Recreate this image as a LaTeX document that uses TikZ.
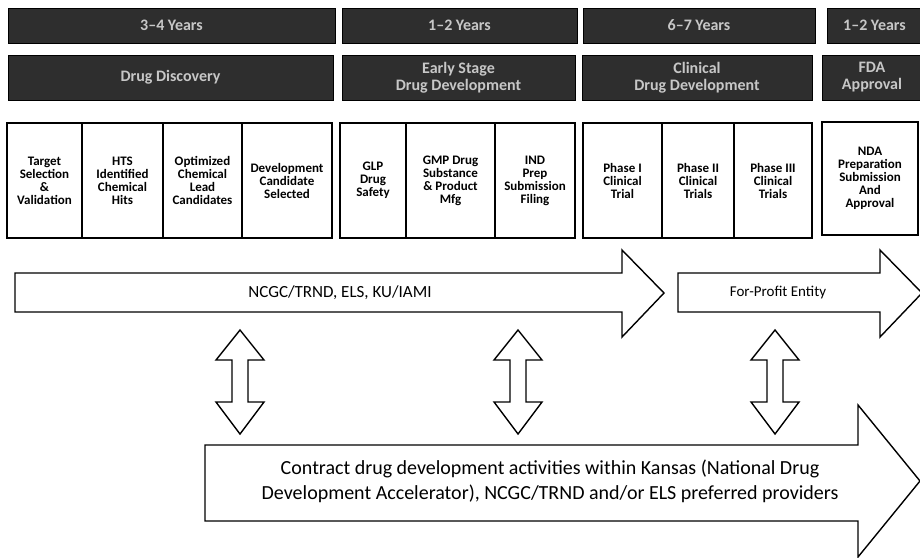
\documentclass[tikz,border=0pt]{standalone}
\usepackage{fontspec}
\setmainfont{Carlito}
\begin{document}
\begin{tikzpicture}[x=1pt,y=-1pt,
  hdr/.style={fill=black!82, draw=black, text=black!22, font=\bfseries\fontsize{16}{17}\selectfont, align=center, inner sep=0pt},
  cell/.style={draw=black, line width=1.2pt, minimum height=115pt, align=center, inner sep=1pt, font=\bfseries\fontsize{13}{13}\selectfont},
  blk/.style={draw=black, line width=1.4pt, fill=white, line join=miter},
  lbl/.style={font=\fontsize{17}{20}\selectfont, align=center, inner sep=0pt}
]
\useasboundingbox (0,0) rectangle (920,557);
% header row 1
\node[hdr, minimum width=327pt, minimum height=35pt] (h11) at (171.5,25.5) {3--4 Years};
\node[hdr, minimum width=235pt, minimum height=35pt] (h12) at (459.5,25.5) {1--2 Years};
\node[hdr, minimum width=232pt, minimum height=35pt] (h13) at (699,25.5) {6--7 Years};
\node[hdr, minimum width=95pt, minimum height=35pt] (h14) at (874.5,25.5) {1--2 Years};
% header row 2
\node[hdr, minimum width=325pt, minimum height=45pt] (h21) at (170.5,77.5) {Drug Discovery};
\node[hdr, minimum width=233pt, minimum height=45pt] (h22) at (458.5,77.5) {Early Stage\\Drug Development};
\node[hdr, minimum width=230pt, minimum height=45pt] (h23) at (697,77.5) {Clinical\\Drug Development};
\node[hdr, minimum width=100pt, minimum height=45pt] (h24) at (872,77.5) {FDA\\Approval};
% cells
\node[cell, minimum width=75pt] (c1) at (44.5,180.5) {Target\\Selection\\\&\\Validation};
\node[cell, minimum width=81pt] (c2) at (122.5,180.5) {HTS\\Identified\\Chemical\\Hits};
\node[cell, minimum width=79pt] (c3) at (202.5,180.5) {Optimized\\Chemical\\Lead\\Candidates};
\node[cell, minimum width=90pt] (c4) at (287,180.5) {Development\\Candidate\\Selected};
\node[cell, minimum width=66pt] (c5) at (373,180.5) {GLP\\Drug\\Safety};
\node[cell, minimum width=89pt] (c6) at (450.5,180.5) {GMP Drug\\Substance\\\& Product\\Mfg};
\node[cell, minimum width=80pt] (c7) at (535,180.5) {IND\\Prep\\Submission\\Filing};
\node[cell, minimum width=79pt] (c8) at (622.5,180.5) {Phase I\\Clinical\\Trial};
\node[cell, minimum width=72pt] (c9) at (698,180.5) {Phase II\\Clinical\\Trials};
\node[cell, minimum width=78pt] (c10) at (773,180.5) {Phase III\\Clinical\\Trials};
\node[cell, minimum width=96pt, minimum height=113pt] (c11) at (870,178.5) {NDA\\Preparation\\Submission\\And\\Approval};
% big arrows
\draw[blk] (15,273) -- (622,273) -- (622,250) -- (664,293) -- (622,337) -- (622,312) -- (15,312) -- cycle;
\node[lbl] (a1) at (340,293) {NCGC/TRND, ELS, KU/IAMI};
\draw[blk] (678,273) -- (880,273) -- (880,250) -- (922,293) -- (880,337) -- (880,312) -- (678,312) -- cycle;
\node[lbl, font=\fontsize{15}{18}\selectfont] (a2) at (778,293) {For-Profit Entity};
% double arrows
\foreach \x in {240,518,775}{
  \draw[blk] ({\x-8},360) -- ({\x-24},360) -- (\x,330) -- ({\x+24},360) -- ({\x+8},360)
    -- ({\x+8},402) -- ({\x+24},402) -- (\x,434) -- ({\x-24},402) -- ({\x-8},402) -- cycle;
}
% bottom arrow
\draw[blk] (205,445) -- (858,445) -- (858,405) -- (920,481) -- (858,557) -- (858,521) -- (205,521) -- cycle;
\node[lbl, font=\fontsize{20}{25}\selectfont] (a3) at (550,481) {Contract drug development activities within Kansas (National Drug\\Development Accelerator), NCGC/TRND and/or ELS preferred providers};
\end{tikzpicture}
\end{document}
